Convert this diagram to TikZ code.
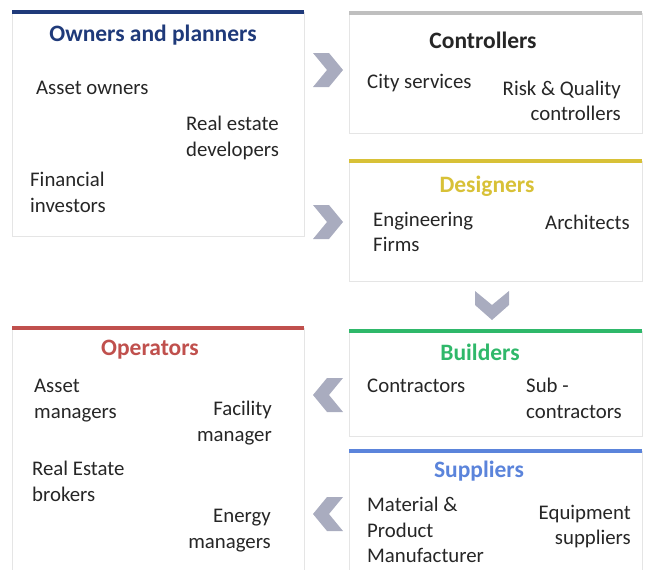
\documentclass[tikz,border=0pt]{standalone}
\usepackage{fontspec}
\setmainfont{Carlito}
\usetikzlibrary{positioning}

\definecolor{ownblue}{HTML}{1F3A7A}
\definecolor{ctrlgray}{HTML}{BFBFBF}
\definecolor{desyellow}{HTML}{D8C137}
\definecolor{buigreen}{HTML}{2FB86A}
\definecolor{supblue}{HTML}{5B84DB}
\definecolor{opred}{HTML}{C0504D}
\definecolor{chevgray}{HTML}{A9ACBF}
\definecolor{bodytext}{HTML}{262626}

\tikzset{
  panel/.style={draw=black!10, fill=white, anchor=north west, inner sep=0pt},
  topbar/.style={line width=4pt},
  heading/.style={font=\fontsize{23.5}{27}\selectfont\bfseries, inner sep=0pt},
  item/.style={font=\fontsize{20.8}{25.5}\selectfont, text=bodytext, inner sep=0pt},
  chevron/.style={fill=chevgray, draw=none}
}

\begin{document}
\begin{tikzpicture}[x=1pt, y=-1pt]
	\useasboundingbox (0,0) rectangle (645,570);
	\clip (0,0) rectangle (645,570);
	
	% Owners and planners
	\node[panel, minimum width=292pt, minimum height=224pt] (owners) at (12,12) {};
	\draw[topbar, ownblue] (owners.north west) -- (owners.north east);
	\node[heading, text=ownblue] (ownhead) at (153,35) {Owners and planners};
	\node[item, anchor=west] (assown) at (36,88) {Asset owners};
	\node[item, anchor=west, align=left] (redev) at (186,138) {Real estate\\developers};
	\node[item, anchor=west, align=left] (fininv) at (30,192.5) {Financial\\investors};
	
	% Controllers
	\node[panel, minimum width=293pt, minimum height=120pt] (ctrl) at (349,13) {};
	\draw[topbar, ctrlgray] (ctrl.north west) -- (ctrl.north east);
	\node[heading, text=black!85] (ctrlhead) at (483,40) {Controllers};
	\node[item, anchor=west] (citysv) at (367,83) {City services};
	\node[item, anchor=east, align=right] (riskq) at (621,101) {Risk \& Quality\\controllers};
	
	% Designers
	\node[panel, minimum width=293pt, minimum height=120pt] (des) at (349,161) {};
	\draw[topbar, desyellow] (des.north west) -- (des.north east);
	\node[heading, text=desyellow] (deshead) at (487,186) {Designers};
	\node[item, anchor=west, align=left] (engf) at (373,232) {Engineering\\Firms};
	\node[item, anchor=west] (arch) at (545,222) {Architects};
	
	% Builders
	\node[panel, minimum width=293pt, minimum height=105pt] (bui) at (349,331) {};
	\draw[topbar, buigreen] (bui.north west) -- (bui.north east);
	\node[heading, text=buigreen] (buihead) at (480,352) {Builders};
	\node[item, anchor=west] (contr) at (367,386) {Contractors};
	\node[item, anchor=west, align=left] (subc) at (526,398.5) {Sub -\\contractors};
	
	% Suppliers
	\node[panel, minimum width=293pt, minimum height=140pt] (sup) at (349,451) {};
	\draw[topbar, supblue] (sup.north west) -- (sup.north east);
	\node[heading, text=supblue] (suphead) at (479,471) {Suppliers};
	\node[item, anchor=west, align=left] (matp) at (367,530) {Material \&\\Product\\Manufacturer};
	\node[item, anchor=east, align=right] (equip) at (631,526.5) {Equipment\\suppliers};
	
	% Operators
	\node[panel, minimum width=292pt, minimum height=260pt] (ops) at (12,328) {};
	\draw[topbar, opred] (ops.north west) -- (ops.north east);
	\node[heading, text=opred] (opshead) at (150,350) {Operators};
	\node[item, anchor=west, align=left] (assman) at (34,400.5) {Asset\\managers};
	\node[item, anchor=east, align=right] (facman) at (272,423) {Facility\\manager};
	\node[item, anchor=west, align=left] (rebrok) at (32,481.5) {Real Estate\\brokers};
	\node[item, anchor=east, align=right] (enman) at (271,530.5) {Energy\\managers};
	
	% Chevrons
	\fill[chevron] (313,53) -- (329,53) -- (343,70) -- (329,87) -- (313,87) -- (327,70) -- cycle;
	\fill[chevron] (313,205) -- (329,205) -- (343,222) -- (329,239) -- (313,239) -- (327,222) -- cycle;
	\fill[chevron] (475,291) -- (492,305) -- (509,291) -- (509,305) -- (492,320) -- (475,305) -- cycle;
	\fill[chevron] (343,378) -- (327,378) -- (313,395) -- (327,412) -- (343,412) -- (329,395) -- cycle;
	\fill[chevron] (343,497) -- (327,497) -- (313,514) -- (327,531) -- (343,531) -- (329,514) -- cycle;
	
\end{tikzpicture}
\end{document}
